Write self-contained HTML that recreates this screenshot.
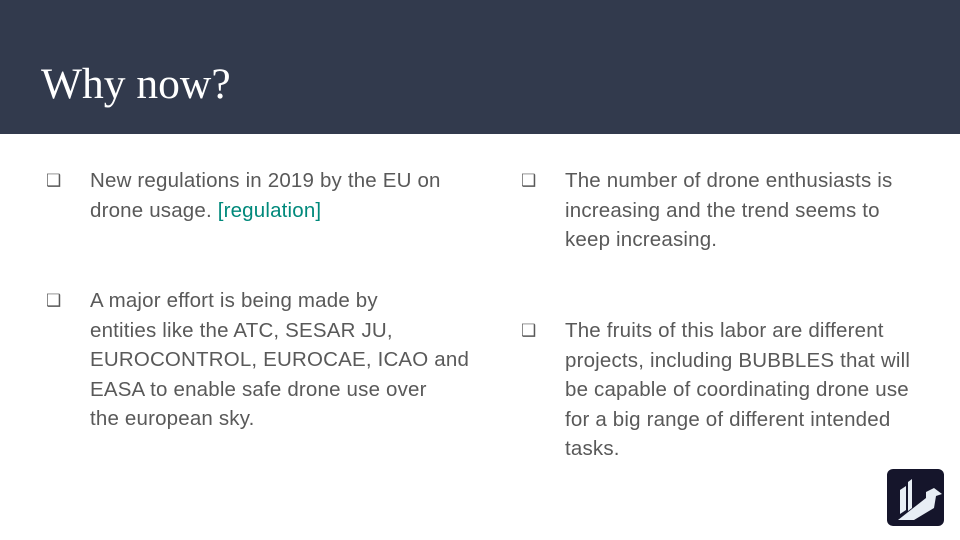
<!DOCTYPE html>
<html><head><meta charset="utf-8"><style>
body{margin:0;width:960px;height:540px;overflow:hidden;background:#fff;font-family:"Liberation Sans",sans-serif;position:relative}
.hdr{position:absolute;left:0;top:0;width:960px;height:134px;background:#323a4d}
.title{position:absolute;left:41px;top:56px;font-family:"Liberation Serif",serif;font-size:43.5px;color:#fff;line-height:56px}
.b{position:absolute;font-size:20.5px;line-height:29.5px;color:#595959;white-space:nowrap;letter-spacing:0.18px}
.bul{position:absolute;font-size:17px;color:#595959;line-height:29.5px}
a{color:#00897b;text-decoration:none}
</style></head><body>
<div class="hdr"></div>
<div class="title">Why now?</div>
<div class="bul" style="left:46px;top:166px">❑</div>
<div class="b" style="left:90px;top:166px">New regulations in 2019 by the EU on<br>drone usage. <a>[regulation]</a></div>
<div class="bul" style="left:46px;top:286px">❑</div>
<div class="b" style="left:90px;top:286px">A major effort is being made by<br>entities like the ATC, SESAR JU,<br>EUROCONTROL, EUROCAE, ICAO and<br>EASA to enable safe drone use over<br>the european sky.</div>
<div class="bul" style="left:521px;top:166px">❑</div>
<div class="b" style="left:565px;top:166px">The number of drone enthusiasts is<br>increasing and the trend seems to<br>keep increasing.</div>
<div class="bul" style="left:521px;top:316px">❑</div>
<div class="b" style="left:565px;top:316px">The fruits of this labor are different<br>projects, including BUBBLES that will<br>be capable of coordinating drone use<br>for a big range of different intended<br>tasks.</div>
<svg style="position:absolute;left:886px;top:468px" width="60" height="60">
<rect x="1" y="1" width="57" height="57" rx="6" fill="#15152b"/>
<polygon points="14,22 20,18 20,42 14,46" fill="#e8eef5"/>
<polygon points="22,14 26,11 26,40 22,43" fill="#e8eef5"/>
<polygon points="12,52 40,30 40,24 48,20 56,26 50,28 48,40 28,52" fill="#e8eef5"/>
</svg>
</body></html>
